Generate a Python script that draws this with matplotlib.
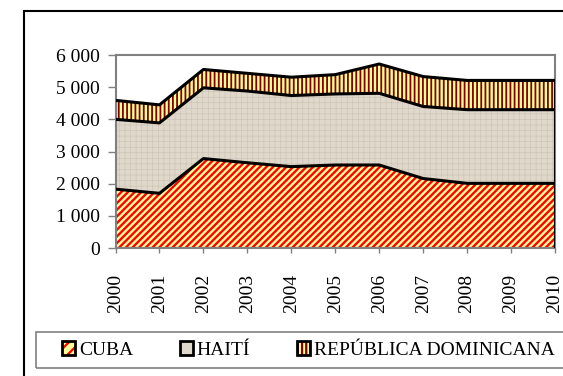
import matplotlib
matplotlib.use("Agg")
import matplotlib.pyplot as plt
import numpy as np
from matplotlib.patches import Rectangle, Patch
from matplotlib.legend_handler import HandlerTuple
from matplotlib.ticker import FuncFormatter

years = [2000, 2001, 2002, 2003, 2004, 2005, 2006, 2007, 2008, 2009, 2010]
cuba = [1830, 1700, 2780, 2650, 2530, 2580, 2580, 2160, 2010, 2010, 2010]
haiti = [2170, 2190, 2200, 2230, 2210, 2210, 2230, 2240, 2290, 2290, 2290]
rep_dom = [590, 560, 570, 550, 570, 600, 910, 930, 910, 910, 910]
labels = ["CUBA", "HAITÍ", "REPÚBLICA DOMINICANA"]

plt.rcParams['font.family'] = ['Liberation Serif', 'DejaVu Serif']

fig = plt.figure(figsize=(5.63, 3.76), dpi=100)
ax = fig.add_axes([0.2052, 0.3404, 0.7806, 0.5133])

x = np.array(years)
c1 = np.array(cuba)
c2 = c1 + np.array(haiti)
c3 = c2 + np.array(rep_dom)

# fills: base colour, then hatch layer on top
plt.rcParams['hatch.linewidth'] = 1.7
ax.fill_between(x, 0, c1, facecolor='#FFFF99', linewidth=0)
ax.fill_between(x, 0, c1, facecolor='none', edgecolor='#FF0000', hatch='/////', linewidth=0)

plt.rcParams['hatch.linewidth'] = 0.4
ax.fill_between(x, c1, c2, facecolor='#DFD8CB', linewidth=0)
ax.fill_between(x, c1, c2, facecolor='none', edgecolor='#CBC2B2', hatch='+++', linewidth=0)

plt.rcParams['hatch.linewidth'] = 1.3
ax.fill_between(x, c2, c3, facecolor='#FFFF99', linewidth=0)
ax.fill_between(x, c2, c3, facecolor='none', edgecolor='#800000', hatch='||||', linewidth=0)

for top in (c1, c2, c3):
    ax.plot(x, top, color='black', lw=2.2, solid_joinstyle='round', zorder=3)
ax.plot([x[-1], x[-1]], [0, c3[-1]], color='black', lw=1.5, zorder=3)

ax.set_xlim(2000, 2010)
ax.set_ylim(0, 6000)
ax.set_xticks(years)
ax.set_xticklabels([str(y) for y in years], rotation=90)
ax.set_yticks(range(0, 6001, 1000))
ax.yaxis.set_major_formatter(FuncFormatter(lambda v, p: f"{int(v):,}".replace(",", " ")))
ax.tick_params(axis='both', labelsize=14, width=1, color='#808080')
ax.tick_params(axis='y', length=5.5, pad=5.5)
ax.tick_params(axis='x', length=3.6, pad=15)
for s in ax.spines.values():
    s.set_color('#808080')
    s.set_linewidth(1.5)

# outer frame (cropped on right and bottom)
fig.patches.append(Rectangle((24 / 563, -0.1), 1.2, 1.1 - 11 / 376,
                             transform=fig.transFigure, fill=False,
                             edgecolor='black', lw=1.5))
# legend box
fig.patches.append(Rectangle((36 / 563, 1 - 368 / 376), 1.0, 36 / 376,
                             transform=fig.transFigure, fill=False,
                             edgecolor='#808080', lw=1.2))

plt.rcParams['hatch.linewidth'] = 1.6
fills = [
    Patch(facecolor='#FFFF99', edgecolor='#FF0000', hatch='///', lw=0),
    Patch(facecolor='#DFD8CB', edgecolor='none', lw=0),
    Patch(facecolor='#FFFF99', edgecolor='#800000', hatch='||||', lw=0),
]
borders = [Patch(facecolor='none', edgecolor='black', lw=2) for _ in labels]
handles = [(f, b) for f, b in zip(fills, borders)]
leg = fig.legend(handles, labels, loc='center left',
                 handler_map={tuple: HandlerTuple(ndivide=1, pad=0)},
                 bbox_to_anchor=(62 / 563, 1 - 350 / 376), ncol=3, frameon=False,
                 fontsize=14, handlelength=0.67, handleheight=0.67,
                 handletextpad=0.2, columnspacing=2.4, borderpad=0,
                 borderaxespad=0)

fig.savefig("out.png", dpi=100)
